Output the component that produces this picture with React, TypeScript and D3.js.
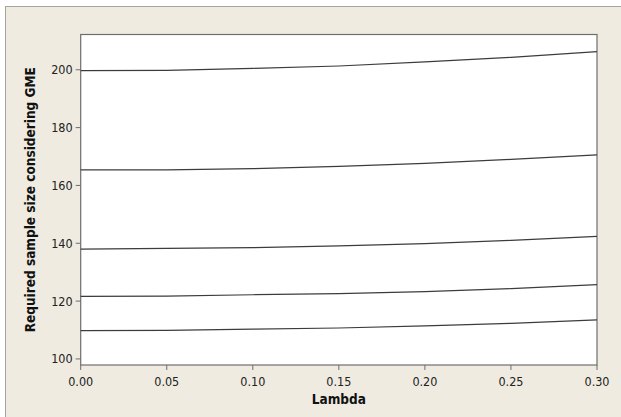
import React from "react";
import * as d3 from "d3";

const lambdas = [0, 0.05, 0.1, 0.15, 0.2, 0.25, 0.3];
const series1 = [199.7, 199.8, 200.5, 201.3, 202.7, 204.3, 206.3];
const series2 = [165.4, 165.4, 165.8, 166.6, 167.6, 169.0, 170.6];
const series3 = [138.0, 138.2, 138.5, 139.1, 139.9, 141.0, 142.4];
const series4 = [121.6, 121.7, 122.2, 122.6, 123.3, 124.3, 125.7];
const series5 = [109.8, 109.9, 110.3, 110.7, 111.4, 112.3, 113.5];
const allSeries = [series1, series2, series3, series4, series5];
const xTicks = [0, 0.05, 0.1, 0.15, 0.2, 0.25, 0.3];
const yTicks = [100, 120, 140, 160, 180, 200];

const W = 621;
const H = 417;
const left = 80.7;
const right = 597;
const top = 34.5;
const bottom = 365;

export default function App() {
  const x = d3.scaleLinear().domain([0, 0.3]).range([left, right]);
  const y = d3.scaleLinear().domain([97.9, 212.2]).range([bottom, top]);
  const line = d3
    .line<number>()
    .x((_, i) => x(lambdas[i]))
    .y((d) => y(d));
  const font = "'DejaVu Sans Condensed', 'DejaVu Sans', Tahoma, sans-serif";
  return (
    <svg
      width={W}
      height={H}
      style={{ position: "fixed", left: 0, top: 0, background: "#ffffff" }}
    >
      <rect x={5.5} y={6.5} width={W} height={H} fill="#EFEBE1" stroke="#a6a39c" strokeWidth={1} />
      <rect
        x={left}
        y={top}
        width={right - left}
        height={bottom - top}
        fill="#ffffff"
        stroke="#6e6e6e"
        strokeWidth={1.2}
      />
      {allSeries.map((s, i) => (
        <path key={i} d={line(s) || ""} fill="none" stroke="#3c3c3c" strokeWidth={1.2} />
      ))}
      {yTicks.map((t) => (
        <g key={"y" + t}>
          <line x1={left - 5} x2={left} y1={y(t)} y2={y(t)} stroke="#6e6e6e" strokeWidth={1} />
          <text
            x={left - 8}
            y={y(t)}
            dy="0.36em"
            textAnchor="end"
            fontFamily={font}
            fontSize={12.5}
            fill="#222"
          >
            {t}
          </text>
        </g>
      ))}
      {xTicks.map((t) => (
        <g key={"x" + t}>
          <line x1={x(t)} x2={x(t)} y1={bottom} y2={bottom + 5} stroke="#6e6e6e" strokeWidth={1} />
          <text
            x={x(t)}
            y={386}
            textAnchor="middle"
            fontFamily={font}
            fontSize={12.5}
            fill="#222"
          >
            {t.toFixed(2)}
          </text>
        </g>
      ))}
      <text
        x={(left + right) / 2}
        y={403.5}
        textAnchor="middle"
        fontFamily={font}
        fontSize={13.5}
        fontWeight="bold"
        fill="#111"
      >
        Lambda
      </text>
      <text
        transform={`translate(34.5, ${(top + bottom) / 2}) rotate(-90)`}
        textAnchor="middle"
        fontFamily={font}
        fontSize={13.5}
        fontWeight="bold"
        fill="#111"
      >
        Required sample size considering GME
      </text>
    </svg>
  );
}
